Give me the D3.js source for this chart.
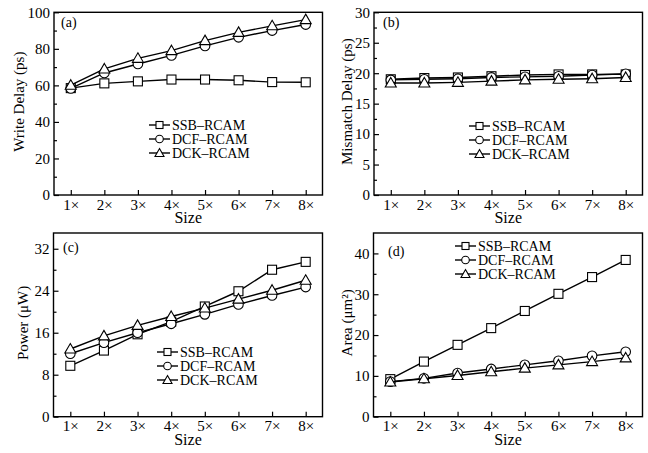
<!DOCTYPE html>
<html>
<head>
<meta charset="utf-8">
<script src="https://cdn.jsdelivr.net/npm/d3@7"></script>
<style>
  body { margin: 0; background: #fff; }
  svg text { font-family: "Liberation Serif", "Times New Roman", "DejaVu Serif", serif !important; fill: #000; }
  .axis text { font-size: 15px; }
  .axis line { stroke: #000; stroke-width: 1.2; }
</style>
</head>
<body>
<svg width="648" height="453"></svg>
<script>
// categories on the x axis
var sizeLabels = ["1×", "2×", "3×", "4×", "5×", "6×", "7×", "8×"];
var seriesNames = ["SSB–RCAM", "DCF–RCAM", "DCK–RCAM"];

// (a) write delay, ps
var writeSSB = [58.5, 61.1, 62.2, 63.2, 63.2, 62.8, 61.8, 61.7];
var writeDCF = [58.3, 66.8, 71.7, 76.4, 81.6, 86.3, 90.0, 93.3];
var writeDCK = [60.1, 69.0, 74.8, 79.0, 84.5, 89.0, 92.6, 96.0];

// (b) mismatch delay, ps
var mismatchSSB = [19.0, 19.2, 19.3, 19.5, 19.7, 19.8, 19.8, 19.8];
var mismatchDCF = [18.9, 19.0, 19.1, 19.3, 19.4, 19.5, 19.7, 19.9];
var mismatchDCK = [18.4, 18.4, 18.5, 18.7, 18.9, 19.0, 19.1, 19.3];

// (c) power, uW
var powerSSB = [9.7, 12.6, 15.7, 18.1, 21.0, 23.9, 28.0, 29.5];
var powerDCF = [12.0, 14.1, 16.0, 17.7, 19.5, 21.4, 23.1, 24.7];
var powerDCK = [12.9, 15.4, 17.4, 19.1, 20.7, 22.4, 24.1, 26.0];

// (d) area, um^2
var areaSSB = [9.2, 13.5, 17.6, 21.7, 25.9, 30.1, 34.2, 38.4];
var areaDCF = [8.6, 9.4, 10.7, 11.7, 12.7, 13.7, 14.9, 15.9];
var areaDCK = [8.5, 9.3, 10.1, 11.0, 11.9, 12.7, 13.5, 14.4];

// y ticks
var writeTicks = [0, 20, 40, 60, 80, 100];
var mismatchTicks = [0, 5, 10, 15, 20, 25, 30];
var powerTicks = [0, 8, 16, 24, 32];
var areaTicks = [0, 10, 20, 30, 40];

var svg = d3.select("svg");

var panels = [
  { tag: "(a)", ylabel: "Write Delay (ps)", x0: 54, x1: 322.5, y0: 12.3, y1: 195, ymax: 100,
    ticks: writeTicks, step: 20, series: [writeSSB, writeDCF, writeDCK],
    tagPos: [61, 27], legend: [149, 125], labelOff: 30 },
  { tag: "(b)", ylabel: "Mismatch Delay (ps)", x0: 374, x1: 642.5, y0: 12.3, y1: 195, ymax: 30,
    ticks: mismatchTicks, step: 5, series: [mismatchSSB, mismatchDCF, mismatchDCK],
    tagPos: [383, 27], legend: [469, 126], labelOff: 22 },
  { tag: "(c)", ylabel: "Power (\u03bcW)", x0: 53.5, x1: 322.5, y0: 233, y1: 416.7, ymax: 35,
    ticks: powerTicks, step: 8, series: [powerSSB, powerDCF, powerDCK],
    tagPos: [63, 252], legend: [157, 352], labelOff: 26 },
  { tag: "(d)", ylabel: "Area (\u03bcm\u00b2)", x0: 373.5, x1: 642.5, y0: 233, y1: 416.7, ymax: 45,
    ticks: areaTicks, step: 10, series: [areaSSB, areaDCF, areaDCK],
    tagPos: [388, 256], legend: [455, 246], labelOff: 22 }
];

// marker drawing: 0 square, 1 circle, 2 triangle
function marker(sel, kind) {
  if (kind == 0) {
    sel.append("rect").attr("x", -4.5).attr("y", -4.5).attr("width", 9).attr("height", 9);
  } else if (kind == 1) {
    sel.append("circle").attr("r", 4.8);
  } else {
    sel.append("path").attr("d", "M0,-5.5L5.5,4L-5.5,4Z");
  }
  sel.selectAll("*").attr("fill", "#fff").attr("stroke", "#000").attr("stroke-width", 1.1);
}

panels.forEach(function(p) {
  var x = d3.scaleLinear().domain([0.5, 8.5]).range([p.x0, p.x1]);
  var y = d3.scaleLinear().domain([0, p.ymax]).range([p.y1, p.y0]);
  var g = svg.append("g");

  // minor ticks
  var minor = [];
  for (var v = p.step / 2; v < p.ymax; v += p.step) { minor.push(v); }
  g.append("g").attr("class", "axis")
    .attr("transform", "translate(" + p.x0 + ",0)")
    .call(d3.axisLeft(y).tickValues(minor).tickSizeInner(-3).tickSizeOuter(0).tickFormat(""))
    .select(".domain").remove();

  // y axis
  g.append("g").attr("class", "axis")
    .attr("transform", "translate(" + p.x0 + ",0)")
    .call(d3.axisLeft(y).tickValues(p.ticks).tickSizeInner(-5).tickSizeOuter(0).tickPadding(4))
    .select(".domain").remove();

  // x axis
  g.append("g").attr("class", "axis")
    .attr("transform", "translate(0," + p.y1 + ")")
    .call(d3.axisBottom(x).tickValues([1, 2, 3, 4, 5, 6, 7, 8])
      .tickFormat(function(d) { return sizeLabels[d - 1]; })
      .tickSizeInner(-5).tickSizeOuter(0).tickPadding(4))
    .select(".domain").remove();

  // frame
  g.append("rect")
    .attr("x", p.x0).attr("y", p.y0)
    .attr("width", p.x1 - p.x0).attr("height", p.y1 - p.y0)
    .attr("fill", "none").attr("stroke", "#000").attr("stroke-width", 1.4);

  // axis titles
  g.append("text")
    .attr("x", (p.x0 + p.x1) / 2).attr("y", p.y1 + 28)
    .attr("text-anchor", "middle").style("font-size", "16px")
    .text("Size");
  g.append("text")
    .attr("transform", "translate(" + (p.x0 - p.labelOff) + "," + ((p.y0 + p.y1) / 2 - 2) + ") rotate(-90)")
    .attr("text-anchor", "middle").style("font-size", "15px")
    .text(p.ylabel);

  g.append("text")
    .attr("x", p.tagPos[0]).attr("y", p.tagPos[1])
    .style("font-size", "14px")
    .text(p.tag);

  var line = d3.line()
    .x(function(d, i) { return x(i + 1); })
    .y(function(d) { return y(d); });

  p.series.forEach(function(s, k) {
    g.append("path")
      .datum(s)
      .attr("d", line)
      .attr("fill", "none")
      .attr("stroke", "#000")
      .attr("stroke-width", 1.4);
    g.selectAll(".m" + k)
      .data(s).enter()
      .append("g")
        .attr("class", "m" + k)
        .attr("transform", function(d, i) { return "translate(" + x(i + 1) + "," + y(d) + ")"; })
        .each(function() { marker(d3.select(this), k); });
  });

  // legend
  var lg = g.append("g").attr("transform", "translate(" + p.legend[0] + "," + p.legend[1] + ")");
  seriesNames.forEach(function(name, k) {
    var row = lg.append("g").attr("transform", "translate(0," + (k * 14) + ")");
    row.append("line").attr("x1", 0).attr("x2", 21).attr("y1", 0).attr("y2", 0)
      .attr("stroke", "#000").attr("stroke-width", 1.4);
    var m = row.append("g").attr("transform", "translate(10.5,0)");
    marker(m, k);
    m.selectAll("rect").attr("x", -3.5).attr("y", -3.5).attr("width", 7).attr("height", 7);
    m.selectAll("circle").attr("r", 3.8);
    m.selectAll("path").attr("d", "M0,-4.5L4.5,3.5L-4.5,3.5Z");
    row.append("text").attr("x", 23).attr("y", 5)
      .style("font-size", "14px")
      .text(name);
  });
});
</script>
</body>
</html>
